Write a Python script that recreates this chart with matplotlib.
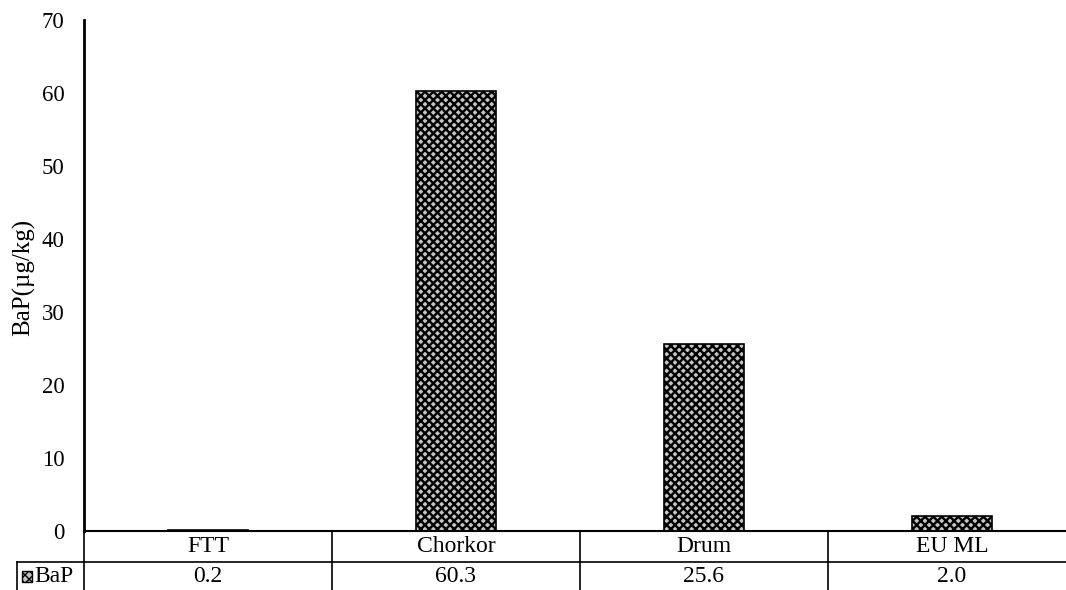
import matplotlib
matplotlib.use("Agg")
import matplotlib.pyplot as plt
from matplotlib.transforms import blended_transform_factory
from matplotlib.patches import Rectangle

# Benzo[a]pyrene levels by smoking method
categories = ["FTT", "Chorkor", "Drum", "EU ML"]
bap_values = [0.2, 60.3, 25.6, 2.0]
value_labels = ["0.2", "60.3", "25.6", "2.0"]
series_name = "BaP"
y_label = "BaP(µg/kg)"
y_ticks = [0, 10, 20, 30, 40, 50, 60, 70]

plt.rcParams["font.family"] = ["Liberation Serif", "DejaVu Serif"]
plt.rcParams["hatch.linewidth"] = 1.7
plt.rcParams["hatch.color"] = "black"

BAR_FACE = "#c4c4c4"
W, H = 1066, 590
fig = plt.figure(figsize=(W / 100, H / 100), dpi=100)
left_px, right_px, top_px, zero_px = 84, 1076, 20, 531
ax = fig.add_axes([left_px / W, (H - zero_px) / H,
                   (right_px - left_px) / W, (zero_px - top_px) / H])

x = list(range(len(categories)))
ax.bar(x, bap_values, width=0.32, facecolor=BAR_FACE, edgecolor="black",
       hatch="xxxx", linewidth=1.2, zorder=2)

ax.set_xlim(-0.5, len(categories) - 0.5)
ax.set_ylim(0, 70)
ax.set_yticks(y_ticks)
ax.tick_params(axis="y", length=0, pad=14, labelsize=16.5)
ax.set_xticks([])
for side in ("top", "right"):
    ax.spines[side].set_visible(False)
ax.spines["left"].set_linewidth(2.0)
ax.spines["bottom"].set_linewidth(1.5)

fig.text(24 / W, 1 - 277 / H, y_label, rotation=90, ha="center", va="center",
         fontsize=18)

# Data table under the axis
trans = blended_transform_factory(ax.transData, ax.transAxes)
ax_h = zero_px - top_px
def ay(px):
    return (zero_px - px) / ax_h

row1_y, row_sep, row2_y, bottom_y = ay(546), ay(562), ay(577), ay(600)
x_left_cell = -0.5 - (left_px - 17) / (right_px - left_px) * len(categories)

line_kw = dict(color="black", linewidth=1.2, clip_on=False, transform=trans)
ax.plot([x_left_cell, len(categories) - 0.5], [row_sep, row_sep], **line_kw)
ax.plot([x_left_cell, x_left_cell], [row_sep, bottom_y], **line_kw)
for b in range(len(categories)):
    ax.plot([b - 0.5, b - 0.5], [0, bottom_y], **line_kw)

for i, (cat, lab) in enumerate(zip(categories, value_labels)):
    ax.text(i, row1_y, cat, transform=trans, ha="center", va="center",
            fontsize=17)
    ax.text(i, row2_y, lab, transform=trans, ha="center", va="center",
            fontsize=17)

# Legend key in the row header
key_x = x_left_cell + 0.02
with plt.rc_context({"hatch.linewidth": 1.0}):
    ax.add_patch(Rectangle((key_x, ay(582)), 0.04, (582 - 571) / ax_h,
                           transform=trans, facecolor=BAR_FACE,
                           edgecolor="black", hatch="xxxx", linewidth=1.0,
                           clip_on=False))
ax.text(key_x + 0.05, row2_y, series_name, transform=trans, ha="left",
        va="center", fontsize=17)

fig.savefig("out.png", dpi=100)
